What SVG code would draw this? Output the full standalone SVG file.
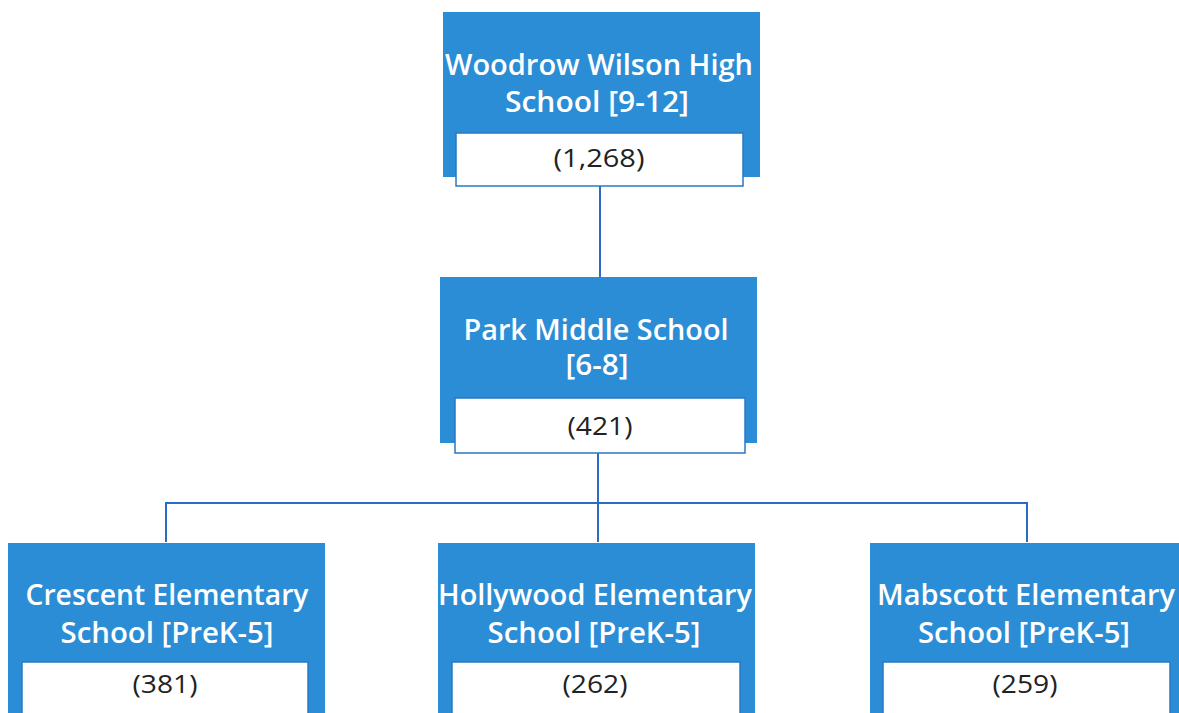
<svg xmlns="http://www.w3.org/2000/svg" width="1179" height="713" viewBox="0 0 1179 713">
<style>
.blue{fill:#2b8dd5}
.box{fill:#ffffff;stroke:#2a78c4;stroke-width:1.5}
.t{font-family:"Open Sans","Liberation Sans",Arial,sans-serif;font-size:28px;font-weight:600;fill:#ffffff;text-anchor:middle}
.n{font-family:"Open Sans","Liberation Sans",Arial,sans-serif;font-size:26px;fill:#222222;text-anchor:middle}
.c{fill:none;stroke:#2a6cc4;stroke-width:2}
</style>
<rect width="1179" height="713" fill="#ffffff"/>
<g id="connectors">
<path class="c" d="M600 186 V277"/>
<path class="c" d="M598 453 V542"/>
<path class="c" d="M166 542 V503 H1027 V542"/>
</g>
<g id="woodrow">
<rect class="blue" x="443" y="12" width="317" height="165"/>
<rect class="box" x="456" y="133" width="287" height="53"/>
<text class="t" x="599" y="75" textLength="308" lengthAdjust="spacingAndGlyphs">Woodrow Wilson High</text>
<text class="t" x="597" y="112" textLength="184" lengthAdjust="spacingAndGlyphs">School [9-12]</text>
<text class="n" x="599" y="167" textLength="91" lengthAdjust="spacingAndGlyphs">(1,268)</text>
</g>
<g id="park">
<rect class="blue" x="440" y="277" width="317" height="166"/>
<rect class="box" x="455" y="398" width="290" height="55"/>
<text class="t" x="596" y="340" textLength="265" lengthAdjust="spacingAndGlyphs">Park Middle School</text>
<text class="t" x="597" y="375" textLength="63" lengthAdjust="spacingAndGlyphs">[6-8]</text>
<text class="n" x="600" y="435" textLength="65" lengthAdjust="spacingAndGlyphs">(421)</text>
</g>
<g id="crescent">
<rect class="blue" x="8" y="543" width="317" height="175"/>
<rect class="box" x="22" y="662" width="286" height="60"/>
<text class="t" x="167" y="605" textLength="283" lengthAdjust="spacingAndGlyphs">Crescent Elementary</text>
<text class="t" x="167" y="643" textLength="213" lengthAdjust="spacingAndGlyphs">School [PreK-5]</text>
<text class="n" x="165" y="693" textLength="65" lengthAdjust="spacingAndGlyphs">(381)</text>
</g>
<g id="hollywood">
<rect class="blue" x="438" y="543" width="317" height="175"/>
<rect class="box" x="452" y="662" width="288" height="60"/>
<text class="t" x="595" y="605" textLength="314" lengthAdjust="spacingAndGlyphs">Hollywood Elementary</text>
<text class="t" x="594" y="643" textLength="213" lengthAdjust="spacingAndGlyphs">School [PreK-5]</text>
<text class="n" x="595" y="693" textLength="65" lengthAdjust="spacingAndGlyphs">(262)</text>
</g>
<g id="mabscott">
<rect class="blue" x="870" y="543" width="320" height="175"/>
<rect class="box" x="883" y="662" width="287" height="60"/>
<text class="t" x="1026" y="605" textLength="298" lengthAdjust="spacingAndGlyphs">Mabscott Elementary</text>
<text class="t" x="1024" y="643" textLength="212" lengthAdjust="spacingAndGlyphs">School [PreK-5]</text>
<text class="n" x="1025" y="693" textLength="65" lengthAdjust="spacingAndGlyphs">(259)</text>
</g>
</svg>
